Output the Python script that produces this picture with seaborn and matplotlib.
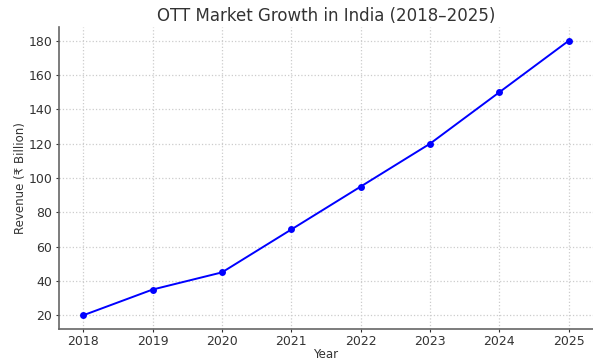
import matplotlib
matplotlib.use("Agg")
import matplotlib.pyplot as plt
import seaborn as sns
import pandas as pd

years = [2018, 2019, 2020, 2021, 2022, 2023, 2024, 2025]
revenue = [20, 35, 45, 70, 95, 120, 150, 180]

df = pd.DataFrame({"Year": years, "Revenue": revenue})

sns.set_theme(style="ticks")
plt.rcParams["font.family"] = ["DejaVu Sans"]

fig = plt.figure(figsize=(5.93, 3.60), dpi=100)
ax = fig.add_axes([59 / 593, 1 - 329 / 360, 1 - 59 / 593, (329 - 27) / 360])

sns.lineplot(data=df, x="Year", y="Revenue", ax=ax, color="#0000ff",
             marker="o", markersize=5, markeredgewidth=0, linewidth=1.4)

ax.set_xticks(years)
ax.set_xticklabels([str(y) for y in years])
ax.set_yticks([20, 40, 60, 80, 100, 120, 140, 160, 180])
ax.grid(True, linestyle=":", color="#cccccc", linewidth=0.9)
ax.set_axisbelow(True)

for side in ("top", "right"):
    ax.spines[side].set_visible(False)
for side in ("left", "bottom"):
    ax.spines[side].set_color("#666666")
    ax.spines[side].set_linewidth(1.2)

ax.tick_params(axis="both", labelsize=9, colors="#333333", length=2.5,
               width=0.8)
ax.tick_params(axis="x", pad=1.5)
ax.tick_params(axis="y", pad=2.5)
ax.set_title("OTT Market Growth in India (2018–2025)", fontsize=12,
             color="#333333", pad=4)
ax.set_xlabel("Year", fontsize=8.5, color="#333333", labelpad=0)
ax.set_ylabel("Revenue (₹ Billion)", fontsize=8.5, color="#333333", labelpad=1)

fig.savefig("out.png", dpi=100)
